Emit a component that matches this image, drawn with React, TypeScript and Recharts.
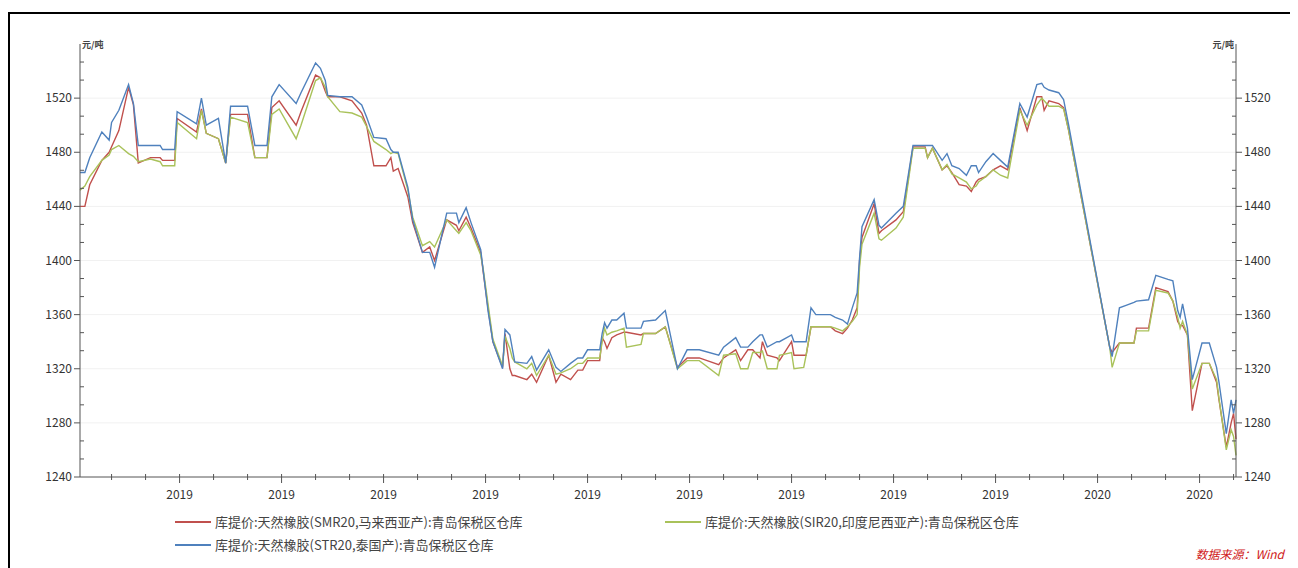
import React from 'react';
import { LineChart, Line, XAxis, YAxis, ReferenceLine } from 'recharts';

// x position of each reading, in days from the start of the series
const days = [
  0, 2, 4, 9, 12, 13, 16, 20, 22, 24, 29, 33, 34, 39, 40, 48, 50, 52, 57, 60,
  62, 69, 72, 77, 79, 82, 89, 91, 97, 99, 101, 102, 107, 112, 116, 118, 121, 126, 128, 129,
  131, 135, 137, 141, 144, 146, 151, 155, 156, 159, 161, 165, 166, 168, 170, 174, 175, 177, 178, 179,
  184, 186, 188, 193, 196, 198, 202, 205, 207, 209, 214, 215, 216, 217, 219, 221, 224, 225, 231, 232,
  237, 241, 246, 250, 255, 263, 265, 270, 272, 275, 277, 280, 281, 283, 287, 288, 293, 294, 298, 299,
  301, 303, 309, 311, 314, 316, 318, 320, 321, 322, 327, 329, 330, 336, 339, 343, 348, 349, 351, 355,
  357, 359, 362, 365, 367, 369, 370, 373, 376, 379, 382, 387, 390, 394, 396, 397, 399, 403, 405, 407,
  424, 425, 428, 431, 434, 435, 440, 443, 448, 450, 452, 453, 454, 456, 458, 462, 465, 468, 469, 472,
  474, 475, 476,
];

// 库提价:天然橡胶(SMR20,马来西亚产)
const smr = [
  1440, 1440, 1456, 1474, 1480, 1484, 1496, 1528, 1515, 1472, 1476, 1476, 1474, 1474, 1505, 1495, 1512, 1494, 1490, 1472,
  1508, 1508, 1476, 1476, 1513, 1518, 1500, 1510, 1537, 1535, 1525, 1521, 1521, 1518, 1509, 1500, 1470, 1470, 1476, 1466,
  1468, 1447, 1428, 1406, 1410, 1400, 1430, 1426, 1422, 1432, 1424, 1406, 1392, 1365, 1340, 1321, 1346, 1320, 1315, 1315,
  1312, 1316, 1310, 1330, 1310, 1316, 1312, 1319, 1319, 1326, 1326, 1343, 1340, 1335, 1343, 1345, 1347, 1347, 1345, 1346,
  1346, 1351, 1321, 1328, 1328, 1323, 1328, 1334, 1326, 1334, 1334, 1328, 1340, 1330, 1328, 1326, 1340, 1330, 1330, 1330,
  1351, 1351, 1351, 1348, 1346, 1350, 1356, 1365, 1400, 1417, 1442, 1420, 1422, 1430, 1436, 1484, 1484, 1476, 1483, 1467,
  1470, 1465, 1456, 1455, 1451, 1458, 1460, 1462, 1467, 1470, 1467, 1513, 1496, 1521, 1521, 1511, 1518, 1516, 1513, 1497,
  1336, 1332, 1339, 1339, 1339, 1350, 1350, 1380, 1377, 1370, 1355, 1352, 1352, 1345, 1289, 1324, 1324, 1310, 1297, 1262,
  1280, 1287, 1268,
];

// 库提价:天然橡胶(SIR20,印度尼西亚产)
const sir = [
  1452, 1455, 1462, 1474, 1478, 1482, 1485, 1479, 1477, 1473, 1475, 1473, 1470, 1470, 1502, 1490, 1511, 1494, 1490, 1472,
  1506, 1502, 1476, 1476, 1508, 1512, 1490, 1500, 1533, 1535, 1528, 1521, 1510, 1509, 1506, 1499, 1488, 1482, 1479, 1480,
  1479, 1452, 1432, 1411, 1414, 1410, 1430, 1422, 1420, 1428, 1422, 1404, 1394, 1368, 1342, 1322, 1344, 1335, 1328, 1325,
  1320, 1324, 1315, 1330, 1316, 1317, 1320, 1324, 1324, 1328, 1328, 1340, 1350, 1345, 1347, 1348, 1350, 1336, 1338, 1346,
  1346, 1351, 1320, 1326, 1326, 1315, 1330, 1331, 1320, 1320, 1332, 1332, 1333, 1320, 1320, 1330, 1332, 1320, 1321, 1330,
  1351, 1351, 1351, 1350, 1348, 1351, 1355, 1360, 1395, 1412, 1435, 1416, 1415, 1424, 1432, 1483, 1483, 1476, 1483, 1467,
  1471, 1464, 1461, 1458, 1453, 1455, 1458, 1462, 1467, 1463, 1461, 1511, 1500, 1515, 1520, 1518, 1514, 1514, 1512, 1497,
  1336, 1321, 1339, 1339, 1339, 1348, 1348, 1378, 1376, 1370, 1358, 1350, 1355, 1345, 1305, 1324, 1324, 1312, 1298, 1260,
  1275, 1270, 1256,
];

// 库提价:天然橡胶(STR20,泰国产)
const str = [
  1465, 1465, 1476, 1495, 1489, 1502, 1511, 1530, 1516, 1485, 1485, 1485, 1482, 1482, 1510, 1501, 1520, 1500, 1505, 1472,
  1514, 1514, 1485, 1485, 1521, 1530, 1516, 1524, 1546, 1542, 1533, 1522, 1521, 1521, 1515, 1506, 1491, 1490, 1482, 1480,
  1480, 1454, 1430, 1406, 1406, 1395, 1435, 1435, 1428, 1439, 1428, 1408, 1393, 1363, 1340, 1320, 1349, 1345, 1335, 1325,
  1324, 1329, 1319, 1334, 1321, 1318, 1324, 1328, 1328, 1334, 1334, 1346, 1354, 1350, 1356, 1356, 1361, 1350, 1350, 1355,
  1356, 1363, 1320, 1334, 1334, 1330, 1336, 1343, 1336, 1336, 1340, 1345, 1345, 1336, 1340, 1340, 1345, 1340, 1340, 1340,
  1365, 1360, 1360, 1358, 1356, 1353, 1365, 1376, 1402, 1425, 1445, 1426, 1424, 1435, 1440, 1485, 1485, 1485, 1485, 1474,
  1479, 1470, 1468, 1463, 1470, 1470, 1465, 1473, 1479, 1474, 1469, 1516, 1506, 1530, 1531, 1528, 1526, 1524, 1519, 1501,
  1336, 1329, 1365, 1367, 1369, 1370, 1371, 1389, 1386, 1385, 1363, 1358, 1368, 1350, 1312, 1339, 1339, 1321, 1310, 1272,
  1297, 1287, 1297,
];

const xTickLabels = ['2019', '2019', '2019', '2019', '2019', '2019', '2019', '2019', '2019', '2020', '2020'];

const seriesNames = [
  '库提价:天然橡胶(SMR20,马来西亚产):青岛保税区仓库',
  '库提价:天然橡胶(SIR20,印度尼西亚产):青岛保税区仓库',
  '库提价:天然橡胶(STR20,泰国产):青岛保税区仓库',
];

const colors = { smr: '#C0504D', sir: '#A9C25A', str: '#4F81BD' };

const data = days.map((d, i) => ({ day: d, smr: smr[i], sir: sir[i], str: str[i] }));

const majorDays = xTickLabels.map((_, i) => 41 + 42 * i);
const xTicks = Array.from({ length: 34 }, (_, k) => 13 + 14 * k);
const yTicks = Array.from({ length: 25 }, (_, k) => 1240 + (40 / 3) * k);
const gridValues = [1280, 1320, 1360, 1400, 1440, 1480, 1520];

const font = '"Noto Sans CJK SC", "Noto Sans", sans-serif';
const axisColor = '#555';

const XTick = (props: any) => {
  const { x, y, payload } = props;
  const idx = majorDays.indexOf(payload.value);
  if (idx < 0) {
    return <line x1={x} x2={x} y1={y - 3} y2={y + 3} stroke={axisColor} />;
  }
  return (
    <g>
      <line x1={x} x2={x} y1={y - 3} y2={y + 6} stroke={axisColor} />
      <text x={x} y={y + 22} textAnchor="middle" fontSize={12} fill="#333" fontFamily={font}>
        {xTickLabels[idx]}
      </text>
    </g>
  );
};

const makeYTick = (side: 'left' | 'right') => (props: any) => {
  const { x, y, payload } = props;
  const v = payload.value;
  const s = side === 'left' ? -1 : 1;
  if (v > 1555) {
    return (
      <text x={x - s * 2} y={y + 4} textAnchor={side === 'left' ? 'start' : 'end'} fontSize={9} fontWeight="bold" fill="#444" fontFamily={font}>
        元/吨
      </text>
    );
  }
  const k = Math.round((v - 1240) / (40 / 3));
  if (k % 3 !== 0) {
    return <line x1={x} x2={x - s * 4} y1={y} y2={y} stroke={axisColor} />;
  }
  return (
    <g>
      <line x1={x} x2={x + s * 6} y1={y} y2={y} stroke={axisColor} />
      <text x={x + s * 8} y={y + 4} textAnchor={side === 'left' ? 'end' : 'start'} fontSize={12} fill="#333" fontFamily={font}>
        {Math.round(v)}
      </text>
    </g>
  );
};

const LegendItem = ({ color, text }: { color: string; text: string }) => (
  <div style={{ display: 'flex', alignItems: 'center' }}>
    <span style={{ display: 'inline-block', width: 36, height: 2, background: color, marginRight: 4 }} />
    <span>{text}</span>
  </div>
);

const App = () => {
  return (
    <div style={{ position: 'relative', width: 1290, height: 560, overflow: 'hidden', fontFamily: font }}>
      <div
        style={{
          position: 'absolute',
          left: 0,
          top: 4,
          width: 1290,
          height: 556,
          borderLeft: '2px solid #000',
          borderTop: '2px solid #000',
          boxSizing: 'border-box',
        }}
      />
      <div style={{ position: 'absolute', left: 0, top: 0 }}>
        <LineChart width={1290} height={560} data={data} margin={{ top: 36, right: 12, bottom: 61, left: 22 }}>
          <XAxis
            dataKey="day"
            type="number"
            domain={[0, 476]}
            ticks={xTicks}
            interval={0}
            tickLine={false}
            tickSize={0}
            tickMargin={0}
            height={30}
            axisLine={{ stroke: axisColor }}
            tick={XTick}
          />
          <YAxis
            yAxisId="left"
            type="number"
            domain={[1240, 1560]}
            allowDataOverflow
            ticks={yTicks}
            interval={0}
            width={50}
            tickLine={false}
            tickSize={0}
            tickMargin={0}
            axisLine={{ stroke: axisColor }}
            tick={makeYTick('left')}
          />
          <YAxis
            yAxisId="right"
            orientation="right"
            type="number"
            domain={[1240, 1560]}
            allowDataOverflow
            ticks={yTicks}
            interval={0}
            width={50}
            tickLine={false}
            tickSize={0}
            tickMargin={0}
            axisLine={{ stroke: axisColor }}
            tick={makeYTick('right')}
          />
          {gridValues.map((v) => (
            <ReferenceLine key={v} y={v} yAxisId="right" stroke="#f1f1f1" />
          ))}
          <Line yAxisId="left" type="linear" dataKey="smr" stroke={colors.smr} strokeWidth={1.4} dot={false} isAnimationActive={false} />
          <Line yAxisId="left" type="linear" dataKey="sir" stroke={colors.sir} strokeWidth={1.4} dot={false} isAnimationActive={false} />
          <Line yAxisId="left" type="linear" dataKey="str" stroke={colors.str} strokeWidth={1.4} dot={false} isAnimationActive={false} />
        </LineChart>
      </div>
      <div style={{ position: 'absolute', left: 167, top: 506, fontSize: 13, color: '#444', lineHeight: '16px' }}>
        <LegendItem color={colors.smr} text={seriesNames[0]} />
      </div>
      <div style={{ position: 'absolute', left: 657, top: 506, fontSize: 13, color: '#444', lineHeight: '16px' }}>
        <LegendItem color={colors.sir} text={seriesNames[1]} />
      </div>
      <div style={{ position: 'absolute', left: 167, top: 529, fontSize: 13, color: '#444', lineHeight: '16px' }}>
        <LegendItem color={colors.str} text={seriesNames[2]} />
      </div>
      <div style={{ position: 'absolute', right: 14, top: 538, fontSize: 12, lineHeight: '16px', color: '#d02020', fontStyle: 'italic' }}>
        数据来源：Wind
      </div>
    </div>
  );
};

export default App;
